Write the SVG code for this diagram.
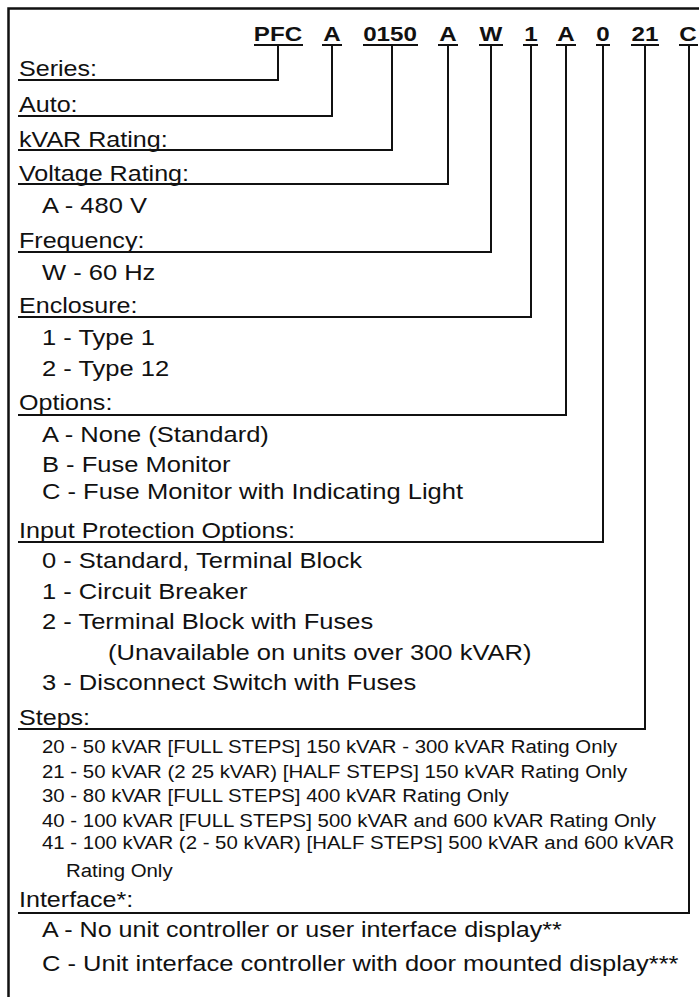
<svg xmlns="http://www.w3.org/2000/svg" width="699" height="997" viewBox="0 0 699 997">
<style>
text{font-family:"Liberation Sans",Arial,sans-serif;fill:#111}
.h{font-size:21px;font-weight:bold;text-anchor:middle}
.l{font-size:22px}
.i{font-size:22px}
.s{font-size:17.6px}
.c{fill:none;stroke:#111;stroke-width:2}
.u{stroke:#111;stroke-width:2}
</style>
<rect x="8.5" y="8.5" width="720" height="1020" fill="#fff" stroke="#111" stroke-width="2.5"/>
<g id="header">
<text class="h" transform="translate(278,41) scale(1.15,1)">PFC</text>
<text class="h" transform="translate(332,41) scale(1.15,1)">A</text>
<text class="h" transform="translate(390,41) scale(1.15,1)">0150</text>
<text class="h" transform="translate(448,41) scale(1.15,1)">A</text>
<text class="h" transform="translate(491,41) scale(1.15,1)">W</text>
<text class="h" transform="translate(531,41) scale(1.15,1)">1</text>
<text class="h" transform="translate(566,41) scale(1.15,1)">A</text>
<text class="h" transform="translate(603,41) scale(1.15,1)">0</text>
<text class="h" transform="translate(645,41) scale(1.15,1)">21</text>
<text class="h" transform="translate(688,41) scale(1.15,1)">C</text>
<line class="u" x1="254" y1="45" x2="303" y2="45"/>
<line class="u" x1="322" y1="45" x2="342" y2="45"/>
<line class="u" x1="363" y1="45" x2="418" y2="45"/>
<line class="u" x1="438" y1="45" x2="458" y2="45"/>
<line class="u" x1="479" y1="45" x2="503" y2="45"/>
<line class="u" x1="523" y1="45" x2="538" y2="45"/>
<line class="u" x1="556" y1="45" x2="576" y2="45"/>
<line class="u" x1="596" y1="45" x2="610" y2="45"/>
<line class="u" x1="631" y1="45" x2="659" y2="45"/>
<line class="u" x1="679" y1="45" x2="698" y2="45"/>
</g>
<g id="connectors">
<path class="c" d="M278 45V80H18"/>
<path class="c" d="M332 45V116H18"/>
<path class="c" d="M392 45V150H18"/>
<path class="c" d="M448 45V184H18"/>
<path class="c" d="M491 45V252H18"/>
<path class="c" d="M531 45V317H18"/>
<path class="c" d="M566 45V415H18"/>
<path class="c" d="M603 45V542H18"/>
<path class="c" d="M645 45V729H18"/>
<path class="c" d="M689 45V913H18"/>
</g>
<g id="series"><text class="l" transform="translate(19,76) scale(1.14,1)">Series:</text></g>
<g id="auto"><text class="l" transform="translate(19,112) scale(1.14,1)">Auto:</text></g>
<g id="kvar"><text class="l" transform="translate(19,147) scale(1.14,1)">kVAR Rating:</text></g>
<g id="voltage">
<text class="l" transform="translate(19,181) scale(1.14,1)">Voltage Rating:</text>
<text class="i" transform="translate(42,213) scale(1.16,1)">A - 480 V</text>
</g>
<g id="frequency">
<text class="l" transform="translate(19,248) scale(1.14,1)">Frequency:</text>
<text class="i" transform="translate(42,280) scale(1.16,1)">W - 60 Hz</text>
</g>
<g id="enclosure">
<text class="l" transform="translate(19,313) scale(1.14,1)">Enclosure:</text>
<text class="i" transform="translate(42,345) scale(1.16,1)">1 - Type 1</text>
<text class="i" transform="translate(42,376) scale(1.16,1)">2 - Type 12</text>
</g>
<g id="options">
<text class="l" transform="translate(19,410) scale(1.14,1)">Options:</text>
<text class="i" transform="translate(42,442) scale(1.16,1)">A - None (Standard)</text>
<text class="i" transform="translate(42,472) scale(1.16,1)">B - Fuse Monitor</text>
<text class="i" transform="translate(42,499) scale(1.16,1)">C - Fuse Monitor with Indicating Light</text>
</g>
<g id="input-protection">
<text class="l" transform="translate(19,538) scale(1.14,1)">Input Protection Options:</text>
<text class="i" transform="translate(42,568) scale(1.16,1)">0 - Standard, Terminal Block</text>
<text class="i" transform="translate(42,599) scale(1.16,1)">1 - Circuit Breaker</text>
<text class="i" transform="translate(42,629) scale(1.16,1)">2 - Terminal Block with Fuses</text>
<text class="i" transform="translate(108,660) scale(1.16,1)">(Unavailable on units over 300 kVAR)</text>
<text class="i" transform="translate(42,690) scale(1.16,1)">3 - Disconnect Switch with Fuses</text>
</g>
<g id="steps">
<text class="l" transform="translate(19,725) scale(1.14,1)">Steps:</text>
<text class="s" transform="translate(42,753) scale(1.16,1)">20 - 50 kVAR [FULL STEPS] 150 kVAR - 300 kVAR Rating Only</text>
<text class="s" transform="translate(42,778) scale(1.16,1)">21 - 50 kVAR (2 25 kVAR) [HALF STEPS] 150 kVAR Rating Only</text>
<text class="s" transform="translate(42,802) scale(1.16,1)">30 - 80 kVAR [FULL STEPS] 400 kVAR Rating Only</text>
<text class="s" transform="translate(42,827) scale(1.16,1)">40 - 100 kVAR [FULL STEPS] 500 kVAR and 600 kVAR Rating Only</text>
<text class="s" transform="translate(42,849) scale(1.16,1)">41 - 100 kVAR (2 - 50 kVAR) [HALF STEPS] 500 kVAR and 600 kVAR</text>
<text class="s" transform="translate(66,877) scale(1.16,1)">Rating Only</text>
</g>
<g id="interface">
<text class="l" transform="translate(19,907) scale(1.14,1)">Interface*:</text>
<text class="i" transform="translate(42,937) scale(1.14,1)">A - No unit controller or user interface display**</text>
<text class="i" transform="translate(42,971) scale(1.16,1)">C - Unit interface controller with door mounted display***</text>
</g>
</svg>
